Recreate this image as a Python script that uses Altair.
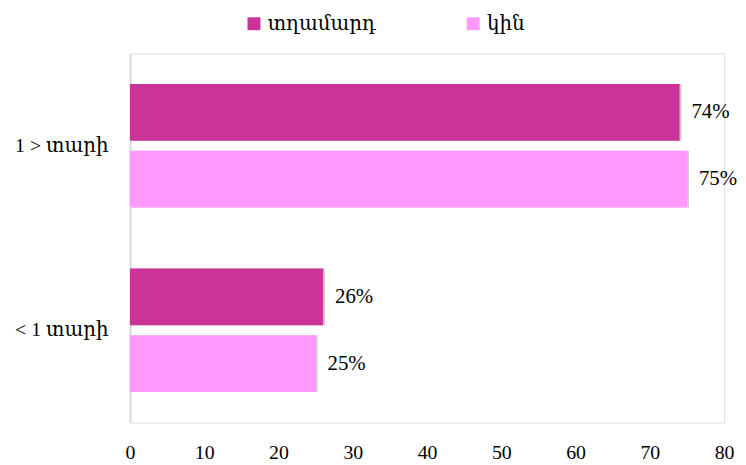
import altair as alt
import pandas as pd

categories = ["1 > տարի", "1 > տարի", "< 1 տարի", "< 1 տարի"]
series = ["տղամարդ", "կին", "տղամարդ", "կին"]
values = [74, 75, 26, 25]
series_order = ["տղամարդ", "կին"]
cat_order = ["1 > տարի", "< 1 տարի"]
colors = ["#CC3399", "#FF99FF"]

df = pd.DataFrame({"cat": categories, "ser": series, "val": values})
df["lab"] = df["val"].astype(str) + "%"

FONT = "'Liberation Serif', 'DejaVu Serif', serif"

y_enc = alt.Y("cat:N", sort=cat_order, title=None,
              scale=alt.Scale(paddingInner=0.33, paddingOuter=0.165),
              axis=alt.Axis(domain=True, domainColor="#D9D9D9", domainWidth=2,
                            ticks=False, labelFontSize=20, labelFont=FONT,
                            labelColor="#000000", labelPadding=22))
yoff = alt.YOffset("ser:N", sort=series_order,
                   scale=alt.Scale(domain=series_order, paddingInner=0.15))
x_enc = alt.X("val:Q", title=None,
              scale=alt.Scale(domain=[0, 80]),
              axis=alt.Axis(values=list(range(0, 81, 10)), domain=False, ticks=False,
                            grid=False, labelFontSize=20, labelFont=FONT, labelFlush=False,
                            labelColor="#000000", labelPadding=20))

base = alt.Chart(df)

shadow = base.mark_bar(color="#000000", opacity=0.2, xOffset=2, yOffset=3).encode(
    x=x_enc, y=y_enc, yOffset=yoff)

bars = base.mark_bar().encode(
    x=x_enc, y=y_enc, yOffset=yoff,
    color=alt.Color("ser:N", sort=series_order,
                    scale=alt.Scale(domain=series_order, range=colors),
                    legend=alt.Legend(title=None, orient="none", direction="horizontal",
                                      legendX=115, legendY=-40,
                                      symbolType="square", symbolSize=170,
                                      symbolStrokeWidth=0, symbolOpacity=1,
                                      labelFontSize=20, labelFont=FONT,
                                      labelColor="#000000", columnPadding=88,
                                      labelOffset=4)))

labels = base.mark_text(align="left", baseline="middle", dx=12, fontSize=21,
                        font=FONT, color="#000000").encode(
    x=x_enc, y=y_enc, yOffset=yoff, text="lab:N")

chart = alt.layer(shadow, bars, labels).properties(
    width=599, height=372,
    autosize=alt.AutoSizeParams(type="none"),
    padding={"left": 123, "top": 44, "right": 14, "bottom": 40},
).configure_view(stroke=None).configure(background="#ffffff")

chart.save("out.html", embed_options={"renderer": "svg", "actions": False})
